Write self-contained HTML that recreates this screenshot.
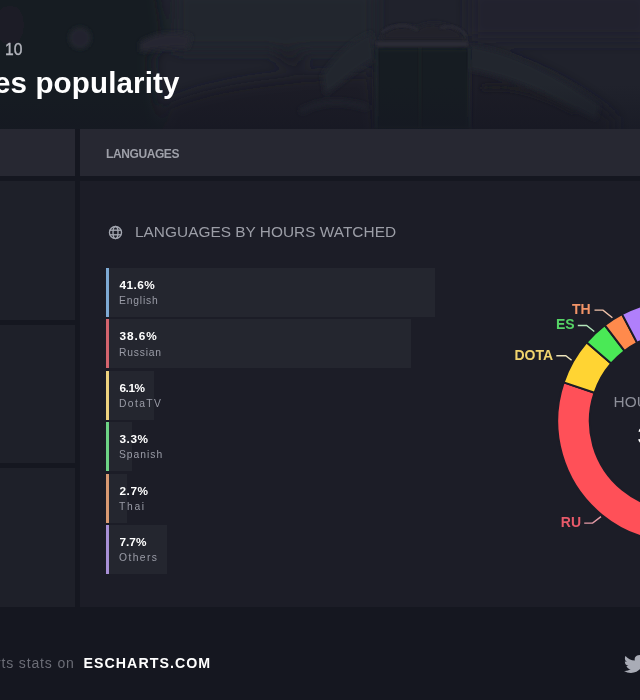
<!DOCTYPE html>
<html><head><meta charset="utf-8">
<style>
*{margin:0;padding:0;box-sizing:border-box}
html,body{width:640px;height:700px;overflow:hidden;background:#151720;font-family:"Liberation Sans",Arial,sans-serif}
.abs{position:absolute}
#hero{left:0;top:0;width:640px;height:129px}
.sub{left:5px;top:40.9px;font-size:15.6px;color:#b4b6be;font-weight:normal;letter-spacing:0.2px;-webkit-text-stroke:0.35px #b4b6be}
.title{top:66px;font-size:29.5px;color:#fff;font-weight:bold;white-space:nowrap;letter-spacing:0.15px}
.tab{background:#272832;height:47px;top:129px}
.tabtxt{left:106px;top:146.8px;font-size:12px;color:#9ea0a9;font-weight:bold;letter-spacing:-0.4px}
.box{background:#1e2029;left:-10px;width:85.2px}
#panel{left:80px;top:181px;width:600px;height:426px;background:#1c1d27}
.h2{left:135px;top:222.5px;font-size:15.4px;color:#9c9ea7;letter-spacing:0.02px;white-space:nowrap}
.item{left:106px;height:49px;background:#24262f}
.item .bar{position:absolute;left:0;top:0;width:3px;height:100%}
.item .p{position:absolute;left:13.5px;top:10px;font-size:11.8px;letter-spacing:0.55px;font-weight:bold;color:#fff;white-space:nowrap}
.item .n{position:absolute;left:13px;top:27.2px;font-size:10.3px;color:#9a9ca7;letter-spacing:0.6px;white-space:nowrap}
.f1{left:-4px;top:655px;font-size:14px;color:#6b6d76;letter-spacing:0.85px;white-space:nowrap}
.f2{left:83.5px;top:655px;font-size:14.2px;color:#fff;font-weight:bold;letter-spacing:1.05px;white-space:nowrap}
</style></head><body>
<svg id="hero" class="abs" width="640" height="129" viewBox="0 0 640 129">
<defs>
<filter id="bl" x="-30%" y="-30%" width="160%" height="160%"><feGaussianBlur stdDeviation="7"/></filter>
<filter id="bl2" x="-30%" y="-30%" width="160%" height="160%"><feGaussianBlur stdDeviation="2.5"/></filter>
<filter id="bl3" x="-30%" y="-30%" width="160%" height="160%"><feGaussianBlur stdDeviation="1.2"/></filter>
<linearGradient id="fade" x1="0" y1="0" x2="0" y2="1"><stop offset="0" stop-color="#151722" stop-opacity="0"/><stop offset="1" stop-color="#151722" stop-opacity="0.55"/></linearGradient>
</defs>
<rect width="640" height="129" fill="#20222c"/>
<g filter="url(#bl)">
<path d="M-20 -20 L158 -20 L166 35 L150 60 L165 140 L-20 140 Z" fill="#181a23"/>
<ellipse cx="10" cy="25" rx="14" ry="20" fill="#1c1e27"/>
<rect x="175" y="-10" width="200" height="60" fill="#23252f"/>
<ellipse cx="290" cy="58" rx="16" ry="7" fill="#1b1d26" transform="rotate(25 290 58)"/>
<path d="M165 105 C220 80 300 75 372 72 L380 150 L160 150 Z" fill="#1c1e27"/>
<ellipse cx="500" cy="2" rx="32" ry="9" fill="#272832"/>
<rect x="470" y="-10" width="180" height="50" fill="#22242e"/>
<path d="M465 50 C520 55 575 85 615 118 L615 150 L460 150 Z" fill="#1c1e27"/>
</g>
<g filter="url(#bl2)">
<circle cx="80" cy="38" r="9" fill="#22242d" stroke="#272933" stroke-width="3"/>
<path d="M140 42 C155 32 175 30 192 36 L188 48 C170 48 155 50 140 52 Z" fill="#262831"/>
<path d="M322 75 C335 55 352 40 372 32 L374 60 C355 70 340 85 325 95 Z" fill="#23252e"/>
<path d="M470 45 C510 50 560 75 600 105 L596 120 C560 100 520 80 470 70 Z" fill="#23252e"/>
<path d="M482 88 C515 84 545 95 575 112" fill="none" stroke="#1a1c24" stroke-width="4"/>
<path d="M300 112 C320 100 345 100 368 108" fill="none" stroke="#23252e" stroke-width="5"/>
<path d="M374 48 L470 48 L470 130 L374 130 Z" fill="#181a22"/>
<path d="M380 40 C382 28 400 22 418 28 C428 20 455 22 468 40 Z" fill="#20222b"/>
</g>
<g filter="url(#bl3)">
<path d="M376 44 L468 44" fill="none" stroke="#292b35" stroke-width="5"/>
<path d="M382 32 C392 24 408 24 418 30 M440 28 C450 24 462 28 466 36" fill="none" stroke="#292b35" stroke-width="2.5"/>
<path d="M377 48 L376 128 M469 48 L470 128" fill="none" stroke="#23252e" stroke-width="2"/>
<path d="M420 48 L420 128" fill="none" stroke="#1d1f27" stroke-width="1.5"/>
</g>
<rect x="0" y="85" width="640" height="44" fill="url(#fade)"/>
</svg>
<div class="abs sub">10</div>
<div class="abs title" style="left:-129.97px">Languages popularity</div>

<div class="abs tab" style="left:-10px;width:85.2px"></div>
<div class="abs tab" style="left:80px;width:600px"></div>
<div class="abs tabtxt">LANGUAGES</div>

<div class="abs box" style="top:181px;height:139px"></div>
<div class="abs box" style="top:324.5px;height:138.5px"></div>
<div class="abs box" style="top:468px;height:139px"></div>

<div id="panel" class="abs"></div>
<svg class="abs" style="left:108px;top:224.9px" width="15" height="15" viewBox="0 0 15 15">
<g fill="none" stroke="#a3a6b0" stroke-width="1.35">
<circle cx="7.5" cy="7.5" r="6.05"/>
<ellipse cx="7.5" cy="7.5" rx="2.5" ry="6.05"/>
<line x1="1.8" y1="5.2" x2="13.2" y2="5.2"/>
<line x1="1.8" y1="9.8" x2="13.2" y2="9.8"/>
</g></svg>
<div class="abs h2">LANGUAGES BY HOURS WATCHED</div>

<div class="abs item" style="top:268px;width:329px"><div class="bar" style="background:#7eaad4"></div><div class="p" style="letter-spacing:0.45px">41.6%</div><div class="n" style="letter-spacing:0.83px">English</div></div>
<div class="abs item" style="top:319.4px;width:305.3px"><div class="bar" style="background:#d4646e"></div><div class="p" style="letter-spacing:0.95px">38.6%</div><div class="n" style="letter-spacing:0.8px">Russian</div></div>
<div class="abs item" style="top:370.8px;width:48.2px"><div class="bar" style="background:#eed27e"></div><div class="p" style="letter-spacing:-0.45px">6.1%</div><div class="n" style="letter-spacing:1.4px">DotaTV</div></div>
<div class="abs item" style="top:422.2px;width:26.1px"><div class="bar" style="background:#6ed486"></div><div class="p">3.3%</div><div class="n" style="letter-spacing:1px">Spanish</div></div>
<div class="abs item" style="top:473.6px;width:21.4px"><div class="bar" style="background:#d99a72"></div><div class="p">2.7%</div><div class="n" style="letter-spacing:1.7px">Thai</div></div>
<div class="abs item" style="top:525px;width:60.9px"><div class="bar" style="background:#a890d6"></div><div class="p" style="letter-spacing:0px">7.7%</div><div class="n" style="letter-spacing:1.4px">Others</div></div>

<svg class="abs" style="left:0;top:0" width="640" height="700">
<g stroke="#1c1d27" stroke-width="2" stroke-linejoin="round">
<path d="M678.30 300.20A121 121 0 0 1 739.24 525.73L722.87 497.66A88.5 88.5 0 0 0 678.30 332.70Z" fill="#4c9ff0"/>
<path d="M739.24 525.73A121 121 0 0 1 563.70 382.37L594.48 392.80A88.5 88.5 0 0 0 722.87 497.66Z" fill="#ff5058"/>
<path d="M563.70 382.37A121 121 0 0 1 586.54 342.33L611.18 363.51A88.5 88.5 0 0 0 594.48 392.80Z" fill="#ffd433"/>
<path d="M586.54 342.33A121 121 0 0 1 604.74 325.13L624.50 350.93A88.5 88.5 0 0 0 611.18 363.51Z" fill="#4ae956"/>
<path d="M604.74 325.13A121 121 0 0 1 622.02 314.09L637.13 342.86A88.5 88.5 0 0 0 624.50 350.93Z" fill="#ff8a4c"/>
<path d="M622.02 314.09A121 121 0 0 1 678.30 300.20L678.30 332.70A88.5 88.5 0 0 0 637.13 342.86Z" fill="#b07ffb"/>
</g>
<g fill="none" stroke-width="1.4">
<polyline points="594.5,310.1 603,310.1 612.4,317.8" stroke="#f0c2aa"/>
<polyline points="577.8,325.5 586.6,325.5 594.3,331.5" stroke="#b2e6ba"/>
<polyline points="556.3,355.8 565.8,355.8 571.6,360.3" stroke="#ece4bc"/>
<polyline points="584.2,523.1 592.6,523.1 601,516.6" stroke="#e49aa6"/>
</g>
<g font-family="Liberation Sans, Arial, sans-serif" font-weight="bold" font-size="14">
<text x="572" y="313.6" fill="#f29468">TH</text>
<text x="556" y="329" fill="#56d466">ES</text>
<text x="514.5" y="360" fill="#f0d46e">DOTA</text>
<text x="560.8" y="527.2" fill="#e85a6a">RU</text>
</g>
<text x="613.6" y="406.5" font-family="Liberation Sans, Arial, sans-serif" font-size="15.4" fill="#8d8f99">HOURS</text>
<text x="637.7" y="443.6" font-family="Liberation Sans, Arial, sans-serif" font-size="23.5" font-weight="bold" fill="#fff">3</text>
</svg>

<div class="abs f1">rts stats on</div>
<div class="abs f2">ESCHARTS.COM</div>
<svg class="abs" style="left:624.3px;top:652.7px" width="22" height="22" viewBox="0 0 24 24"><path fill="#a9acb6" d="M23.953 4.57a10 10 0 01-2.825.775 4.958 4.958 0 002.163-2.723c-.951.555-2.005.959-3.127 1.184a4.92 4.92 0 00-8.384 4.482C7.69 8.095 4.067 6.13 1.64 3.162a4.822 4.822 0 00-.666 2.475c0 1.71.87 3.213 2.188 4.096a4.904 4.904 0 01-2.228-.616v.06a4.923 4.923 0 003.946 4.827 4.996 4.996 0 01-2.212.085 4.936 4.936 0 004.604 3.417 9.867 9.867 0 01-6.102 2.105c-.39 0-.779-.023-1.17-.067a13.995 13.995 0 007.557 2.209c9.053 0 13.998-7.496 13.998-13.985 0-.21 0-.42-.015-.63A9.935 9.935 0 0024 4.59z"/></svg>
</body></html>
